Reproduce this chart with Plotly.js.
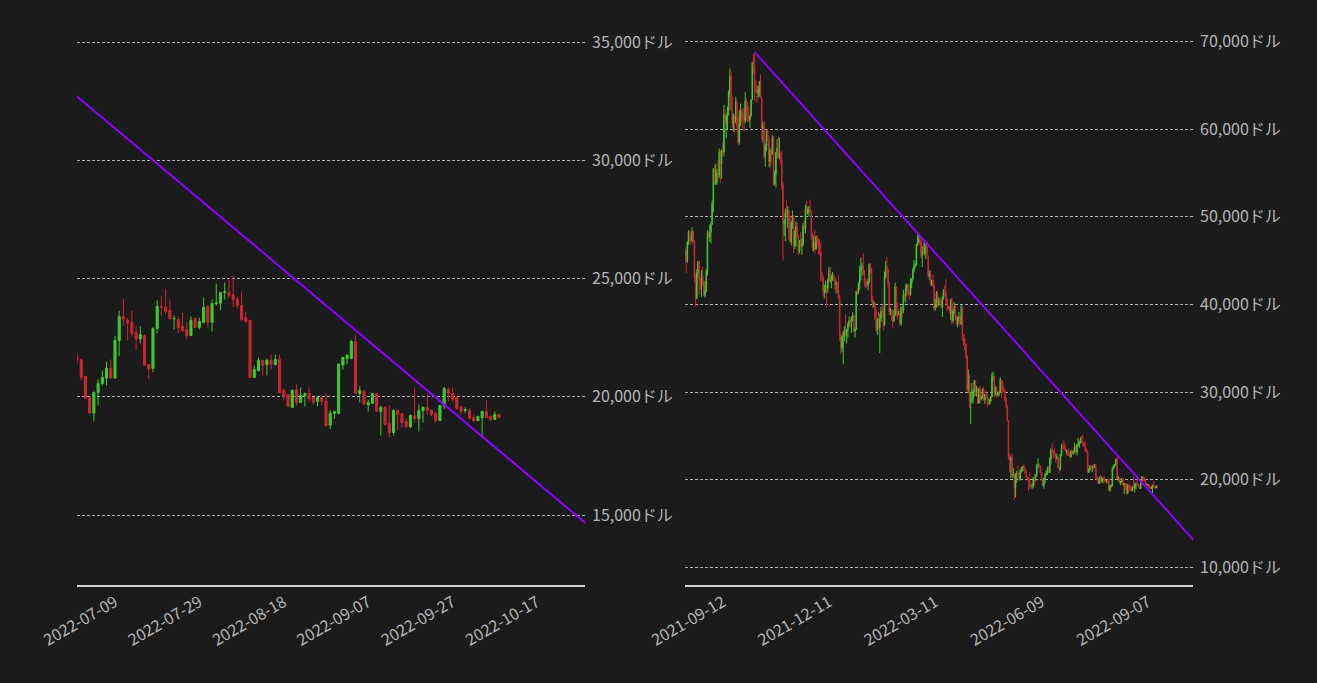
<!DOCTYPE html>
<html>
<head>
<meta charset="utf-8">
<script src="https://cdn.plot.ly/plotly-3.0.1.min.js"></script>
<style>
  html, body { margin: 0; padding: 0; background: #1b1b1b; }
  #chart { width: 1317px; height: 683px; }
</style>
</head>
<body>
<div id="chart"></div>
<script>
// ---- Data: BTC daily candles, 2021-09-12 .. 2022-10-17 (USD) ----
const firstDay = '2021-09-12';
const zoomStart = '2022-07-09';

const openPrices = [
  45170,46060,44960,47100,48160,47770,47300,48310,47260,43010,40680,43570,44880,42840,42720,43230,42240,41030,41510,
  43820,48140,47680,48210,49170,51490,55340,53800,53930,54950,54730,57530,56040,57370,57350,61610,60890,61550,62040,64280,66000,62240,60690,61370,60890,63030,60350,58470,60620,62240,61850,
  61320,60960,63250,62940,61460,61070,61550,63340,67550,66950,64980,64940,64150,64460,65520,63570,60140,60360,56900,58120,59730,58710,56300,57540,57200,58950,53740,54810,57290,57830,
  56910,57000,56500,53600,49250,49370,50580,50470,50640,47590,47130,49390,50050,46700,48340,48860,47630,46130,46830,46680,46910,48940,48630,50780,50430,50800,50810,50640,47590,46440,47180,
  46310,47690,47350,46460,45900,43570,43160,41560,41730,41910,41820,42740,43950,42590,43100,43180,43110,42250,42380,41680,40680,36460,35030,36280,36650,36950,36850,37140,37710,38170,37920,
  38480,38740,36950,37150,41500,41440,42410,43840,44120,44340,43570,42410,42240,42200,42590,44580,43960,40540,40030,40120,38430,37070,38290,37300,38330,39210,39110,37710,
  43190,44350,43920,42450,39140,39400,38420,38060,38740,41980,39440,38790,38900,37850,39670,39340,41140,40950,41800,42190,41250,41080,42360,42890,43960,44350,44500,46820,47130,47470,47060,
  45540,46280,45870,46450,46620,45560,43210,43450,42250,42770,42160,39530,40080,41150,39940,40550,40410,39720,40830,41500,41370,40530,39740,39490,39470,40460,38120,39240,39740,38600,
  37710,38470,38530,37750,39700,36580,36040,35500,34060,30300,31020,28940,29050,29280,30000,31300,29860,30420,28720,30310,29200,29430,30320,29100,29660,29540,29200,28630,29030,29470,31730,
  31790,29800,30470,29700,29860,29910,31370,31130,30210,30110,29080,28360,26760,22490,22210,22570,20380,20470,19020,20550,20720,20710,19990,21090,21230,21500,21030,20730,20280,20100,
  19780,19300,19240,19300,20230,20190,20550,21640,
  21700,21560,20860,19970,19310,20180,20560,20790,21200,20790,22380,23390,23230,23140,22720,22440,22590,21360,21200,22890,23820,23780,23650,
  23290,23270,22970,22840,22590,23310,22930,23140,23820,23140,23930,23960,24410,24410,24320,24110,23860,23350,23230,20820,21110,21540,21360,21540,21360,21580,20270,20100,19550,20310,19760,
  20050,20150,19970,19800,19970,19800,18800,19300,19300,21340,21620,21620,22340,20140,20220,19650,19720,20140,19380,19550,18870,18490,19420,19290,18960,18730,19210,19080,19420,19550,
  19420,19290,18990,19630,20310,20140,19970,19550,19420,19420,19120,18990,19120,19380,19170,19040,19250
];
const highPrices = [
  46360,46600,47220,48450,48490,48140,48810,48350,47330,43600,44020,44930,45030,42930,43920,44300,42790,42640,44060,
  48440,48340,49130,49440,51890,55570,55900,56060,55460,56500,57810,57630,57690,58480,62760,62270,61680,62600,64430,66930,66640,63720,61740,61470,63710,63290,61440,62130,62930,62270,62410,
  62410,64240,63520,63130,62600,61590,63400,67670,68530,68790,65590,65020,64900,65500,66280,63570,60820,60950,58350,59860,60030,59290,57880,57760,59320,59200,55280,57390,58870,59180,
  59040,57340,57560,53900,49700,50930,51900,51200,50780,50100,49500,50720,50190,48470,49450,49370,47960,47340,48300,47500,49300,49500,51370,51800,51160,51240,51950,50680,48120,47880,48520,
  47830,47930,47520,47460,47020,43750,43180,42230,42720,42200,43000,44270,44280,43400,43720,43440,43180,42660,42480,43410,41100,36800,36430,37000,37510,38920,37200,37980,38620,38320,38650,
  39120,38830,37380,41530,41850,42500,44400,45300,44730,45820,43920,42990,42720,42880,44670,44700,44160,40930,40420,40160,39430,38400,39170,38970,39690,40010,39790,43760,
  44950,45360,44100,42500,39650,39400,39430,39340,42470,42040,40180,39310,39170,39880,39800,41670,41260,42300,42400,42300,41540,43040,42970,44100,45080,44740,46890,48090,48190,47660,47560,
  46650,47170,47010,46870,47110,45560,43860,43920,42790,43370,42410,40630,41510,41500,40830,40700,40580,41000,41760,42170,42890,40780,39960,39760,40620,40770,39430,40290,39900,38780,
  38630,39150,38640,39980,39820,36620,36110,35500,34230,32600,32080,30030,31030,30310,31370,31310,30710,30620,30430,30690,29590,30430,30620,29800,30170,29800,29360,29250,29530,32190,32330,
  31950,30630,30680,29930,30130,31690,31370,31300,30620,30320,29400,28510,26800,23000,22690,22940,21320,20710,20720,21000,21690,20840,21170,21470,21560,21810,21480,21160,20370,20150,
  20850,19370,19600,20260,20630,20600,21800,22430,
  21870,21600,20880,20000,20230,20750,21110,21490,21580,22580,23630,24140,23340,23650,22970,22970,22620,21360,22930,24070,24240,24560,24110,
  23440,23400,23560,23180,23400,23360,23350,24200,23900,24110,24780,24440,24830,25000,25130,24240,24410,23570,23250,21320,21660,21560,21620,21790,21790,21790,20350,20120,20310,20520,20390,
  20180,20390,19990,20000,19990,20140,19440,19420,21410,21680,21780,22410,22620,20440,20310,19870,20160,20160,19630,19590,19630,19460,19460,19300,19100,19250,20350,19670,19590,20100,
  19460,19380,19650,20410,20390,20390,20010,19630,19550,19500,19240,19190,19420,19840,19210,19380,19260
];
const lowPrices = [
  44790,43590,44750,46770,47080,46790,47070,46900,42530,39790,40600,43120,41080,41700,40830,42110,40930,40800,41430,
  43320,47480,47130,46950,49070,50510,53700,53630,53660,54110,54410,53880,54330,56960,56870,60350,58970,60010,61560,63610,62120,60120,59730,59520,60660,59890,58210,58240,60330,60790,60080,
  59760,60680,61000,60800,60810,60160,61430,63340,66380,63210,64180,62950,63600,63720,63550,58810,58470,56550,55700,57470,58620,55700,55630,55940,57050,53530,53670,53330,56710,56630,
  56550,55950,53130,45000,47800,47200,50040,48750,47330,47050,46750,48640,45860,46320,46550,47540,45580,45820,46450,45670,46650,48460,48070,50380,50200,49990,50500,47410,46100,46060,45820,
  46250,46720,45730,45570,42650,42650,40940,40670,41270,39650,41330,42530,42460,41860,42680,42650,41640,41270,41260,40630,35790,34350,34600,33180,35780,36400,35560,36220,37400,37350,36730,
  38110,36830,36250,37050,41020,41150,41690,42690,43270,43330,42020,41850,41930,41600,42460,43500,40220,39550,39660,38110,36840,36500,37230,34460,38020,38680,37050,37500,
  42880,43400,41890,38750,38800,38120,37260,38030,38730,38600,38270,38770,37590,37580,38500,38970,40430,40230,41550,41000,40550,41000,41860,42700,43660,44120,44460,46680,46980,46620,45280,
  44250,45860,45600,45150,45450,43160,42800,42160,42130,42000,39280,39300,39640,39610,39830,40150,39570,38580,40590,40960,40000,39230,39420,39030,38200,37740,37870,38890,38180,37600,
  37390,38050,37580,37720,35860,35260,34790,33780,30030,29870,28170,26350,28750,28690,29520,29520,29490,28690,28700,28750,29070,29250,29000,28650,29380,28300,28520,28600,28840,29470,31300,
  29400,29600,29360,29500,29520,29880,29290,29900,30000,28890,28170,26640,22320,20850,20180,20280,20240,17710,18000,19640,20350,19790,19920,20780,20920,21000,20660,20230,19860,18750,
  19000,18980,18960,19060,19360,19790,20380,21290,
  21420,20690,19900,19280,18960,19630,20480,20480,20760,20760,21720,23000,22380,22550,21960,22250,21310,20750,21030,22680,23440,23520,23240,
  22850,22680,22720,22420,22560,22900,22850,23120,22930,22760,23860,23650,24110,24160,23780,23730,23180,23140,20800,20780,21070,20900,20900,21150,21320,20160,19840,19570,19540,19630,19740,
  19590,19770,19660,19590,19630,18740,18630,19060,19250,21150,21380,21590,20120,19760,19630,19380,19700,19360,18360,18790,18290,18360,18580,18690,18670,18670,18910,18530,18910,19240,
  19170,18910,18970,19490,19800,19800,19460,19250,19300,19060,18930,18970,18280,19100,18990,19030,19100
];
const closePrices = [
  46060,44960,47090,48180,47780,47300,48310,47260,43000,40690,43570,44880,42840,42720,43210,42240,41030,41520,43790,
  48120,47710,48200,49110,51510,55360,53810,53970,54970,54660,57470,56010,57370,57350,61670,60880,61530,62000,64280,66000,62210,60690,61390,60890,63040,60360,58480,60620,62230,61890,61320,
  61000,63230,62970,61450,61130,61530,63330,67570,66970,64980,64950,64160,64470,65470,63560,60160,60370,56940,58120,59760,58760,56310,57570,57220,58960,53570,54820,57290,57810,57010,
  56980,56500,53600,49250,49370,50580,50470,50640,47590,47130,49390,50050,46700,48340,48860,47630,46130,46830,46680,46910,48940,48630,50780,50430,50800,50810,50640,47590,46440,47180,46310,
  47690,47350,46460,45900,43570,43160,41560,41730,41910,41820,42740,43950,42590,43100,43180,43110,42250,42380,41680,40680,36460,35030,36280,36650,36950,36850,37140,37710,38170,37920,38480,
  38740,36950,37150,41500,41440,42410,43840,44120,44340,43570,42410,42240,42200,42590,44580,43960,40540,40030,40120,38430,37070,38290,37300,38330,39210,39110,37710,43190,
  44350,43920,42450,39140,39400,38420,38060,38740,41980,39440,38790,38900,37850,39670,39340,41140,40950,41800,42190,41250,41080,42360,42890,43960,44350,44500,46820,47130,47470,47060,45540,
  46280,45870,46450,46620,45560,43210,43450,42250,42770,42160,39530,40080,41150,39940,40550,40410,39720,40830,41500,41370,40530,39740,39490,39470,40460,38120,39240,39740,38600,37710,
  38470,38530,37750,39700,36580,36040,35500,34060,30300,31020,28940,29050,29280,30000,31300,29860,30420,28720,30310,29200,29430,30320,29100,29660,29540,29200,28630,29030,29470,31730,31790,
  29800,30470,29700,29860,29910,31370,31130,30210,30110,29080,28360,26760,22490,22210,22570,20380,20470,19020,20550,20720,20710,19990,21090,21230,21500,21030,20730,20280,20100,19780,
  19300,19240,19300,20230,20190,20550,21640,21730,
  21560,20820,19940,19310,20180,20560,20820,21200,20790,22380,23390,23280,23110,22680,22440,22630,21340,21170,22890,23820,23780,23610,23310,
  23310,22930,22800,22590,23230,22930,23180,23780,23140,23940,23960,24410,24440,24280,24110,23860,23270,23180,20820,21150,21540,21320,21540,21360,21580,20180,20010,19590,20270,19760,20060,
  20130,19910,19770,19970,19800,18770,19300,19370,21380,21660,21760,22340,20140,20270,19690,19760,20140,19380,19550,18830,18490,19420,19250,18900,18730,19210,19080,19420,19550,19420,
  19250,18990,19630,20350,20140,19890,19500,19380,19450,19080,18990,19170,19380,19120,19040,19250,19120
];

// Trend line (resistance) through the Nov-2021 high
const trendDates = ['2021-11-10', '2022-11-20'];
const trendValues = [68790, 12630];

// Tick values and labels
const leftXTicks = ['2022-07-09','2022-07-29','2022-08-18','2022-09-07','2022-09-27','2022-10-17'];
const rightXTicks = ['2021-09-12','2021-12-11','2022-03-11','2022-06-09','2022-09-07'];
const leftYTicks = [15000, 20000, 25000, 30000, 35000];
const leftYLabels = ['15,000ドル', '20,000ドル', '25,000ドル', '30,000ドル', '35,000ドル'];
const rightYTicks = [10000, 20000, 30000, 40000, 50000, 60000, 70000];
const rightYLabels = ['10,000ドル', '20,000ドル', '30,000ドル', '40,000ドル', '50,000ドル', '60,000ドル', '70,000ドル'];

// ---- Build date list (one candle per day) ----
const dates = [];
(function () {
  const d0 = new Date(firstDay + 'T00:00:00Z');
  for (let i = 0; i < closePrices.length; i++) {
    const d = new Date(d0.getTime() + i * 86400000);
    dates.push(d.toISOString().slice(0, 10));
  }
})();
const k = dates.indexOf(zoomStart);

const GREEN = '#3ecb2b', RED = '#cc2634', PURPLE = '#8f00ff';
const TXT = '#b5b5b5';
const FONT = '"Noto Sans CJK JP", "Noto Sans", sans-serif';

function candles(xa, ya, from) {
  return {
    type: 'candlestick', xaxis: xa, yaxis: ya,
    x: dates.slice(from), open: openPrices.slice(from), high: highPrices.slice(from),
    low: lowPrices.slice(from), close: closePrices.slice(from),
    increasing: { line: { color: GREEN, width: 1 }, fillcolor: GREEN },
    decreasing: { line: { color: RED, width: 1 }, fillcolor: RED },
    whiskerwidth: 0, showlegend: false, hoverinfo: 'skip'
  };
}
function trend(xa, ya) {
  return {
    type: 'scatter', mode: 'lines', xaxis: xa, yaxis: ya,
    x: trendDates, y: trendValues,
    line: { color: PURPLE, width: 2 }, showlegend: false, hoverinfo: 'skip'
  };
}

const traces = [candles('x', 'y', k), trend('x', 'y'), candles('x2', 'y2', 0), trend('x2', 'y2')];

const xBase = {
  type: 'date', showgrid: false, zeroline: false,
  showline: true, linecolor: '#d2d2d2', linewidth: 2,
  ticks: '', tickangle: -30, tickformat: '%Y-%m-%d', tickmode: 'array',
  ticklabelshift: 38,
  tickfont: { family: FONT, size: 16, color: TXT },
  rangeslider: { visible: false }, fixedrange: true
};
const yBase = {
  side: 'right', showline: false, zeroline: false,
  showgrid: true, gridcolor: 'rgba(205,205,205,0.85)', gridwidth: 1, griddash: '3px,2px',
  ticks: '', tickmode: 'array', ticklabelstandoff: 6,
  tickfont: { family: FONT, size: 16, color: TXT }, fixedrange: true
};

const layout = {
  width: 1317, height: 683,
  paper_bgcolor: '#1b1b1b', plot_bgcolor: '#1b1b1b',
  margin: { l: 77, r: 124, t: 17, b: 98 },
  font: { family: FONT, color: TXT },
  showlegend: false,
  xaxis: Object.assign({}, xBase, { domain: [0, 0.4552], anchor: 'y',
    range: ['2022-07-09', '2022-11-06 09:00'], tickvals: leftXTicks }),
  yaxis: Object.assign({}, yBase, { anchor: 'x', domain: [0, 1],
    range: [12040, 36057], tickvals: leftYTicks, ticktext: leftYLabels }),
  xaxis2: Object.assign({}, xBase, { domain: [0.5448, 1], anchor: 'y2',
    range: ['2021-09-12', '2022-11-16 07:00'], tickvals: rightXTicks }),
  yaxis2: Object.assign({}, yBase, { anchor: 'x2', domain: [0, 1],
    range: [7980, 72798], tickvals: rightYTicks, ticktext: rightYLabels })
};

Plotly.newPlot('chart', traces, layout, { displayModeBar: false, staticPlot: true });
</script>
</body>
</html>
